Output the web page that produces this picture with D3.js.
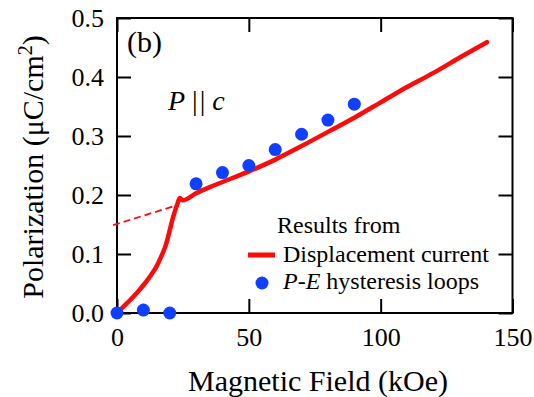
<!DOCTYPE html>
<html>
<head>
<meta charset="utf-8">
<script src="https://cdn.jsdelivr.net/npm/d3@7"></script>
<style>
html,body{margin:0;padding:0;background:#fff;}
svg{display:block;font-family:"Liberation Serif","Times New Roman",serif;}
</style>
</head>
<body>
<svg id="chart" width="534" height="397"></svg>
<script>
// Displacement current curve
const lineX = [0, 2.5, 5, 7.5, 10, 12.5, 15, 17, 18.5, 20, 21, 22, 23, 23.8, 25, 30, 35, 40, 50, 60, 70, 80, 90, 100, 110, 120, 130, 140.3];
const lineY = [0, 0.011, 0.022, 0.034, 0.047, 0.062, 0.079, 0.098, 0.115, 0.140, 0.158, 0.173, 0.186, 0.195, 0.191, 0.203, 0.213, 0.222, 0.240, 0.260, 0.283, 0.307, 0.331, 0.357, 0.383, 0.407, 0.433, 0.459];
// Dashed extrapolation
const dashX = [-1.5, 23];
const dashY = [0.149, 0.183];
// P-E hysteresis loop points
const dotX = [0, 10, 20, 30, 40, 50, 60, 70, 80, 90];
const dotY = [0, 0.005, 0.0, 0.219, 0.238, 0.250, 0.277, 0.303, 0.327, 0.354];
// Ticks
const xTicks = [0, 50, 100, 150];
const yTicks = [0, 0.1, 0.2, 0.3, 0.4, 0.5];

const RED = "#ff0a0a", BLUE = "#1040ff";
const svg = d3.select("#chart");
const L = 117, R = 512.5, T = 18, B = 313;
const x = d3.scaleLinear().domain([0, 150]).range([L, R]);
const y = d3.scaleLinear().domain([0, 0.5]).range([B, T]);

const TK = 14;
function styleAxis(g, size) {
  g.select(".domain").remove();
  g.selectAll(".tick line").attr("stroke", "#000").attr("stroke-width", 2);
  g.selectAll(".tick text").attr("fill", "#000").style("font-size", size + "px")
    .style("font-family", '"Liberation Serif","Times New Roman",serif');
}
svg.append("g").attr("transform", `translate(0,${B})`)
  .call(d3.axisBottom(x).tickValues(xTicks).tickSizeInner(-TK).tickSizeOuter(0).tickPadding(15).tickFormat(d3.format("d")))
  .call(g => styleAxis(g, 26));
svg.append("g").attr("transform", `translate(0,${T})`)
  .call(d3.axisTop(x).tickValues(xTicks).tickSizeInner(-TK).tickSizeOuter(0).tickFormat(""))
  .call(g => styleAxis(g, 26));
svg.append("g").attr("transform", `translate(${L},0)`)
  .call(d3.axisLeft(y).tickValues(yTicks).tickSizeInner(-TK).tickSizeOuter(0).tickPadding(13).tickFormat(d3.format(".1f")))
  .call(g => styleAxis(g, 26));
svg.append("g").attr("transform", `translate(${R},0)`)
  .call(d3.axisRight(y).tickValues(yTicks).tickSizeInner(-TK).tickSizeOuter(0).tickFormat(""))
  .call(g => styleAxis(g, 26));

svg.append("rect").attr("x", L).attr("y", T).attr("width", R - L).attr("height", B - T)
  .attr("fill", "none").attr("stroke", "#000").attr("stroke-width", 2);

// dashed line
const dashData = dashX.map((d, i) => [d, dashY[i]]);
svg.append("path").datum(dashData)
  .attr("d", d3.line().x(d => x(d[0])).y(d => y(d[1])))
  .attr("fill", "none").attr("stroke", RED).attr("stroke-width", 1.8).attr("stroke-dasharray", "7,4");

// main line
const lineData = lineX.map((d, i) => [d, lineY[i]]);
svg.append("path").datum(lineData)
  .attr("d", d3.line().x(d => x(d[0])).y(d => y(d[1])).curve(d3.curveMonotoneX))
  .attr("fill", "none").attr("stroke", RED).attr("stroke-width", 4.5)
  .attr("stroke-linecap", "round").attr("stroke-linejoin", "round");

// dots
const dotData = dotX.map((d, i) => [d, dotY[i]]);
svg.append("g").selectAll("circle").data(dotData).join("circle")
  .attr("cx", d => x(d[0])).attr("cy", d => y(d[1])).attr("r", 6.5).attr("fill", BLUE);

// annotations
svg.append("text").attr("x", 127).attr("y", 52).style("font-size", "30px").text("(b)");
const pc = svg.append("text").attr("x", 168).attr("y", 110).style("font-size", "28px");
pc.append("tspan").style("font-style", "italic").text("P");
pc.append("tspan").attr("dx", 7).text("|");
pc.append("tspan").attr("dx", 2).text("|");
pc.append("tspan").attr("dx", 7).style("font-style", "italic").text("c");

// legend
svg.append("text").attr("x", 277).attr("y", 233).style("font-size", "24px").text("Results from");
svg.append("line").attr("x1", 248).attr("x2", 275).attr("y1", 255).attr("y2", 255)
  .attr("stroke", RED).attr("stroke-width", 5);
svg.append("text").attr("x", 283).attr("y", 262).style("font-size", "24px").text("Displacement current");
svg.append("circle").attr("cx", 262).attr("cy", 283).attr("r", 6.5).attr("fill", BLUE);
const pe = svg.append("text").attr("x", 283).attr("y", 289).style("font-size", "24px");
pe.append("tspan").style("font-style", "italic").text("P-E");
pe.append("tspan").text(" hysteresis loops");

// axis titles
svg.append("text").attr("x", 318).attr("y", 391).attr("text-anchor", "middle")
  .style("font-size", "30px").text("Magnetic Field (kOe)");
const yt = svg.append("text").attr("transform", "translate(43,167) rotate(-90)")
  .attr("text-anchor", "middle").style("font-size", "30px");
yt.append("tspan").text("Polarization (μC/cm");
yt.append("tspan").attr("dy", "-0.55em").style("font-size", "20px").text("2");
yt.append("tspan").attr("dy", "0.37em").text(")");
</script>
</body>
</html>
